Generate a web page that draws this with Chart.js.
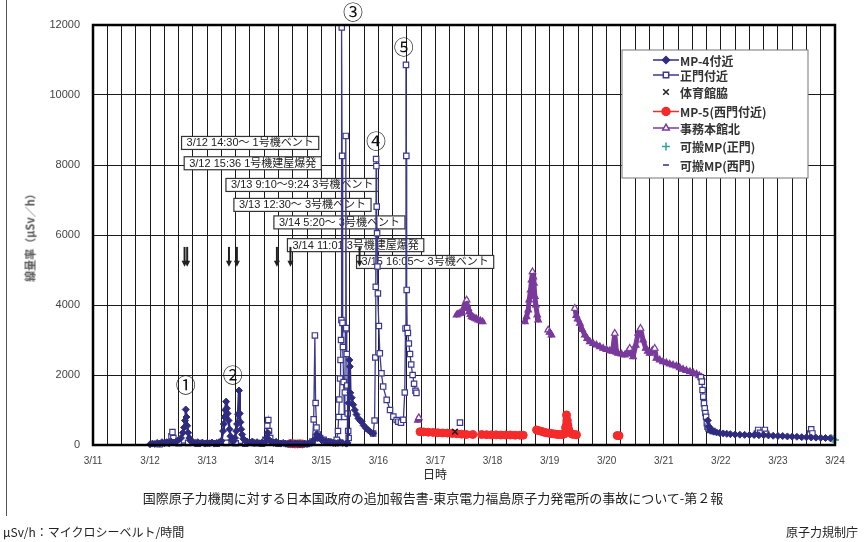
<!DOCTYPE html>
<html>
<head>
<meta charset="utf-8">
<script src="https://cdn.jsdelivr.net/npm/chart.js@4.4.1/dist/chart.umd.min.js"></script>
<style>
html, body { margin: 0; padding: 0; background: #fff; }
#wrap { position: relative; width: 866px; height: 542px; overflow: hidden; font-family: "Noto Sans CJK JP", "Liberation Sans", sans-serif; color: #222; }
#chart { position: absolute; left: 0; top: 0; }
.frame { position: absolute; left: 6px; top: 0; width: 1px; height: 516px; background: #555; }
.txt { position: absolute; white-space: nowrap; line-height: 1; }
.ytitle { left: 30px; top: 235px; transform: translate(-50%, -50%) rotate(-90deg); font-size: 11px; font-weight: bold; color: #555; }
.xtitle { left: 435px; top: 474px; transform: translate(-50%, -50%); font-size: 12px; }
.report { left: 433px; top: 497px; transform: translate(-50%, -50%); font-size: 13px; }
.unit { left: 3px; top: 532px; transform: translateY(-50%); font-size: 12px; }
.agency { right: 8px; top: 532px; transform: translateY(-50%); font-size: 12px; }
</style>
</head>
<body>
<div id="wrap">
  <canvas id="chart" width="866" height="542"></canvas>
  <div class="frame"></div>
  <div class="txt ytitle">線量率（μSv／h）</div>
  <div class="txt xtitle">日時</div>
  <div class="txt report">国際原子力機関に対する日本国政府の追加報告書-東京電力福島原子力発電所の事故について-第２報</div>
  <div class="txt unit">μSv/h：マイクロシーベルト/時間</div>
  <div class="txt agency">原子力規制庁</div>
</div>
<script>
// 横軸は 3/11 0:00 からの経過時間 (h)
const dayLabels = ['3/11', '3/12', '3/13', '3/14', '3/15', '3/16', '3/17', '3/18', '3/19', '3/20', '3/21', '3/22', '3/23', '3/24'];
const yTicks = [0, 2000, 4000, 6000, 8000, 10000, 12000];

// [時間, 線量率]  (null = 欠測)
const mp4Points = [
    [24, 20], [25, 40], [26, 30], [27, 60], [28, 40], [29, 80], [30, 50], [31, 80], [32, 50], [33, 90], [34, 70],
    [35, 100], [36, 150], [37, 200], [37.8, 350], [38.3, 500], [38.7, 700], [39, 1015], [39.3, 800], [39.6, 550],
    [40, 350], [40.5, 200], [41, 120], [42, 90], [43, 60], [44, 80], [45, 50], [46, 70], [47, 40], [48, 60],
    [49, 50], [50, 70], [51, 40], [52, 60], [53, 80], [54, 120], [54.7, 400], [55, 600], [55.3, 800], [55.6, 1000],
    [56, 1240], [56.3, 1050], [56.6, 900], [57, 700], [57.4, 450], [57.8, 250], [58.3, 150], [59, 100],
    [59.7, 200], [60.2, 400], [60.6, 600], [61, 880], [61.4, 1557], [61.7, 900], [62, 650], [62.3, 450],
    [62.7, 300], [63.2, 180], [64, 120], [65, 90], [66, 70], [67, 100], [68, 60], [69, 80], [70, 50], [71, 70],
    [72, 60], [73, 200], [73.5, 350], [74, 150], [75, 80], [76, 60], [77, 90], [78, 50], [79, 40], [80, 60],
    [81, 40], [82, 30], [83, 50], [84, 30], [85, 40], [86, 30], [87, 20], [88, 30], [89, 40], [90, 30], [91, 50],
    [92, 60], [93, 150], [94, 300], [94.5, 200], [95, 250], [96, 150], [97, 120], [98, 100], [99, 90], [100, 70],
    [101, 60], [102, 50], [103, 60], [104, 80], [105, 60], [106.5, 40], [107, 60], [107.5, 1200], [107.8, 2430],
    [108, 2240], [108.2, 1490], [108.8, 1350], [109.4, 1150], [110.1, 1000], [110.8, 870], [111.6, 760],
    [112.4, 690], [113, 666], [113.8, 560], [114.8, 480], [115.7, 428], [116.7, 370], [117.8, 334], [118, null],
    [258.5, 700], [259, 520], [259.5, 450], [260, 410], [261, 380], [262.2, 360], [263.5, 345], [265, 330],
    [266.5, 320], [268, 310], [270, 300], [272, 295], [274, 290], [276, 285], [278, 285], [280, 280], [282, 280],
    [284, 275], [286, 265], [288, 260], [290, 255], [292, 245], [294, 240], [296, 235], [298, 225], [300, 220],
    [302, 215], [304, 210], [306, 205], [308, 200], [310, 195]
];
const gatePoints = [
    [28, 20], [31, 60], [33, 250], [33.4, 370], [33.8, 200], [34.5, 80], [36, 50], [40, 60], [44, 40], [48, 50],
    [52, 40], [56, 60], [60, 50], [64, 40], [68, 50], [71, 40], [72.5, 150], [73.3, 550], [73.7, 714], [74, 400],
    [74.5, 200], [75.5, 80], [78, 40], [82, 30], [86, 40], [90, 30], [92.3, 100], [92.8, 733], [93.3, 3130],
    [93.6, 1200], [94, 500], [94.6, 300], [95.5, 200], [97, 150], [99, 100], [101, 70], [102.5, 150], [103, 400],
    [103.3, 800], [103.6, 1300], [103.9, 1900], [104.1, 2430], [104.3, 3000], [104.45, 3570], [104.6, 11930],
    [104.75, 8260], [104.9, 3490], [105.1, 2800], [105.4, 1800], [105.7, 800], [105.9, 1500], [106.1, 3310],
    [106.3, 8830], [106.5, 3340], [106.7, 2600], [106.9, 1700], [107.1, 900], [107.3, 400], [107.5, 200], [108, null],
    [117.8, 330], [118.4, 700], [118.7, 2500], [118.9, 4520], [119.05, 8170], [119.15, 7970], [119.3, 6810],
    [119.45, 6050], [119.6, 5100], [119.8, 4330], [120.2, 3400], [120.6, 2620], [121.3, 2050], [122, 1670],
    [123.5, 1290], [124.9, 1000], [126.3, 810], [127.7, 714], [128.4, 666], [129.5, 640], [130.5, 720],
    [131.1, 1500], [131.4, 3330], [131.6, 10860], [131.75, 8260], [131.9, 4430], [132.1, 3340], [132.4, 3200],
    [132.8, 2900], [133.3, 2600], [133.8, 2300], [134.4, 2000], [135, 1750], [135.6, 1550], [136, 1490], [137, null],
    [154.3, 640], [155, null],
    [255.6, 1934], [256, 1810], [256.3, 1571], [256.6, 1380], [256.9, 1190], [257.2, 1048], [257.5, 914],
    [257.8, 808], [258.1, 620], [258.4, 523], [258.8, 476], [259.5, 430], [260.5, 400], [261, null],
    [279.2, 330], [279.7, 430], [280.5, 350], [282.5, 430], [283, 320], [284, null],
    [301.5, 330], [302, 448], [302.5, 330]
];
const gymPoints = [[152.2, 380]];
const mp5Points = [
    [83, 40], [84, 35], [85, 30], [86, 30], [87, 35], [88, 30], [89, null],
    [137.5, 380], [139, 375], [141, 365], [143, 360], [145, 350], [147, 345], [149, 340], [151, 330], [153, 320],
    [155, 310], [157, 300], [159.7, 300], [161, null],
    [163.4, 300], [165.5, 295], [167.5, 290], [169.5, 290], [171.5, 285], [173.5, 285], [175.5, 285], [177.5, 280],
    [179.5, 280], [180.9, 280], [183, null],
    [186.5, 430], [187.5, 410], [188.5, 390], [189.5, 370], [190.5, 350], [191.5, 340], [192.5, 330], [193.5, 320],
    [194.5, 310], [195.5, 300], [196.5, 300], [197.5, 300], [198.3, 320], [198.7, 500], [199.1, 860], [199.4, 700],
    [199.7, 560], [200, 450], [200.5, 360], [201.5, 310], [202.5, 300], [203.3, 290], [205, null],
    [220.4, 270], [221.2, 265]
];
const officePoints = [
    [136.6, 710], [137, 780], [138, null],
    [152.9, 3714], [153.5, 3740], [154.3, 3762], [155, 3780], [155.8, 3900], [156.5, 4050], [157.1, 4143],
    [157.3, 4000], [157.8, 3900], [158.2, 3810], [158.7, 3730], [159.2, 3667], [159.9, 3640], [160.6, 3620],
    [161.3, 3600], [162, 3571], [162.9, 3550], [163.8, 3524], [165, null],
    [181.6, 3524], [182.3, 3667], [183, 3857], [183.4, 4143], [184, 4430], [184.4, 4714], [184.8, 4950],
    [185.1, 4800], [185.4, 4620], [185.8, 4240], [186.2, 4000], [186.8, 3714], [187.2, 3570], [189, null],
    [191.4, 3286], [192, 3220], [192.8, 3143], [194, null],
    [202.6, 3905], [203.2, 3700], [203.8, 3600], [204.7, 3476], [205.7, 3300], [206.8, 3143], [207.8, 3040],
    [208.9, 2952], [210.3, 2900], [211.7, 2857], [213.1, 2810], [214.5, 2762], [215.9, 2730], [217.3, 2695],
    [218.5, 2680], [219.4, 3190], [220.1, 2650], [220.8, 2620], [222.2, 2600], [223.6, 2571], [224.7, 2650],
    [225.7, 2762], [226.4, 2600], [227.1, 2524], [228.2, 2850], [229.2, 3190], [230.2, 3333], [231.3, 3000],
    [232.4, 2762], [233.3, 2680], [234.1, 2620], [235.2, 2700], [236.2, 2762], [236.9, 2476], [238.3, 2430],
    [239.7, 2380], [241.1, 2350], [242.5, 2314], [243.9, 2285], [245.3, 2257], [246.7, 2210], [248.1, 2162],
    [249.5, 2130], [251, 2095], [252.4, 2060], [253.8, 2029], [254.9, 1980], [255.9, 1934]
];
const mobileGatePoints = [[310.5, 190], [311.2, 170], [312, 140]];
const mobileWestPoints = [[309, 200], [311, 180]];

// 事象 (ベント・爆発)
const eventHours = [38.5, 39.6, 57.17, 60.5, 77.33, 83.02, 112.08];
const eventLevels = [8630, 8050, 7430, 6860, 6360, 5710, 5230];
const eventTexts = [
    '3/12 14:30～ 1号機ベント',
    '3/12 15:36 1号機建屋爆発',
    '3/13 9:10～9:24 3号機ベント',
    '3/13 12:30～ 3号機ベント',
    '3/14 5:20～ 3号機ベント',
    '3/14 11:01 3号機建屋爆発',
    '3/15 16:05～ 3号機ベント'
];
const arrowTop = 5660;
const arrowTip = 5090;

// ピーク番号
const peakLabels = ['①', '②', '③', '④', '⑤'];
const peakHours = [39, 58.8, 109.3, 119, 130.7];
const peakLevels = [1690, 2000, 12370, 8660, 11370];

const navy = '#2F2C80';
const purple = '#7A3A9C';
const red = '#F52A2A';
const teal = '#2FA39B';

function toXY(points) {
    return points.map(p => ({ x: p[0], y: p[1] }));
}

// 山になっている点だけ白抜きの三角にする
function officeFill(c) {
    const d = c.dataset.data;
    const i = c.dataIndex;
    const p = d[i], a = d[i - 1], b = d[i + 1];
    if (!p || p.y == null) return purple;
    const prev = a && a.y != null ? a.y : 0;
    const next = b && b.y != null ? b.y : 0;
    return p.y > prev && p.y > next ? '#fff' : purple;
}

const overlay = {
    id: 'overlay',
    beforeDatasetsDraw(chart) {
        const { ctx, scales: { x, y } } = chart;
        ctx.save();
        ctx.font = '11px "Liberation Sans", "Noto Sans CJK JP"';
        ctx.textBaseline = 'middle';
        eventTexts.forEach((t, i) => {
            const left = x.getPixelForValue(eventHours[i]) - 3;
            const cy = y.getPixelForValue(eventLevels[i]);
            const w = ctx.measureText(t).width + 10;
            ctx.fillStyle = '#fff';
            ctx.fillRect(left, cy - 6.5, w, 13);
            ctx.strokeStyle = '#333';
            ctx.lineWidth = 1.2;
            ctx.strokeRect(left, cy - 6.5, w, 13);
            ctx.fillStyle = '#222';
            ctx.fillText(t, left + 5, cy + 0.5);
        });
        // 矢印
        ctx.strokeStyle = '#222';
        ctx.fillStyle = '#222';
        eventHours.forEach(h => {
            const px = x.getPixelForValue(h);
            const top = y.getPixelForValue(arrowTop);
            const tip = y.getPixelForValue(arrowTip);
            ctx.lineWidth = 2;
            ctx.beginPath();
            ctx.moveTo(px, top);
            ctx.lineTo(px, tip - 4);
            ctx.stroke();
            ctx.beginPath();
            ctx.moveTo(px - 3, tip - 6);
            ctx.lineTo(px + 3, tip - 6);
            ctx.lineTo(px, tip);
            ctx.closePath();
            ctx.fill();
        });
        ctx.restore();
    },
    afterDraw(chart) {
        const { ctx, chartArea: a, scales: { x, y } } = chart;
        ctx.save();
        // 枠
        ctx.strokeStyle = '#000';
        ctx.lineWidth = 2.5;
        ctx.strokeRect(a.left, a.top, a.right - a.left, a.bottom - a.top);

        // ピーク番号
        ctx.fillStyle = '#111';
        ctx.textAlign = 'center';
        ctx.textBaseline = 'middle';
        ctx.font = '20px "Noto Sans CJK JP"';
        peakLabels.forEach((t, i) => {
            ctx.fillText(t, x.getPixelForValue(peakHours[i]), y.getPixelForValue(peakLevels[i]));
        });

        // 凡例
        const lx = a.right - 213, ly = a.top + 25, lw = 186, lh = 128;
        ctx.fillStyle = '#fff';
        ctx.fillRect(lx, ly, lw, lh);
        ctx.strokeStyle = '#777';
        ctx.lineWidth = 1;
        ctx.strokeRect(lx, ly, lw, lh);
        const rows = [10, 25, 42, 61.5, 78, 96.5, 115];
        ctx.textAlign = 'left';
        ctx.font = 'bold 12px "Noto Sans CJK JP"';
        chart.data.datasets.forEach((ds, i) => {
            const cy = ly + rows[i];
            const cx = lx + 44;
            if (ds.showLine !== false) {
                ctx.strokeStyle = ds.borderColor;
                ctx.lineWidth = 1.5;
                ctx.beginPath();
                ctx.moveTo(cx - 13, cy);
                ctx.lineTo(cx + 13, cy);
                ctx.stroke();
            }
            ctx.strokeStyle = ds.pointBorderColor;
            ctx.fillStyle = ds.legendFill || ds.pointBackgroundColor;
            Chart.helpers.drawPoint(ctx, {
                pointStyle: ds.pointStyle, radius: ds.pointRadius, rotation: 0, borderWidth: ds.pointBorderWidth
            }, cx, cy);
            ctx.fillStyle = '#333';
            ctx.fillText(ds.label, lx + 58, cy + 1);
        });
        ctx.restore();
    }
};

new Chart(document.getElementById('chart'), {
    type: 'line',
    data: {
        datasets: [{
            label: 'MP-4付近',
            data: toXY(mp4Points),
            clip: 8,
            borderColor: navy,
            borderWidth: 2.5,
            borderJoinStyle: 'round',
            pointStyle: 'rectRot',
            pointRadius: 3.5,
            pointBackgroundColor: navy,
            pointBorderColor: navy,
            pointBorderWidth: 1
        }, {
            label: '正門付近',
            data: toXY(gatePoints),
            clip: 8,
            borderColor: '#3B3890',
            borderWidth: 1.3,
            pointStyle: 'rect',
            pointRadius: 3.8,
            pointBackgroundColor: '#fff',
            pointBorderColor: '#3B3890',
            pointBorderWidth: 1.2
        }, {
            label: '体育館脇',
            data: toXY(gymPoints),
            showLine: false,
            borderColor: '#222',
            pointStyle: 'crossRot',
            pointRadius: 4,
            pointBackgroundColor: '#222',
            pointBorderColor: '#222',
            pointBorderWidth: 1.5
        }, {
            label: 'MP-5(西門付近)',
            data: toXY(mp5Points),
            clip: 8,
            borderColor: red,
            borderWidth: 7,
            borderCapStyle: 'round',
            borderJoinStyle: 'round',
            pointStyle: 'circle',
            pointRadius: 4,
            pointBackgroundColor: red,
            pointBorderColor: red,
            pointBorderWidth: 1
        }, {
            label: '事務本館北',
            data: toXY(officePoints),
            borderColor: purple,
            borderWidth: 5,
            borderCapStyle: 'round',
            borderJoinStyle: 'round',
            pointStyle: 'triangle',
            pointRadius: 3.8,
            pointBackgroundColor: officeFill,
            legendFill: '#fff',
            pointBorderColor: purple,
            pointBorderWidth: 1.2
        }, {
            label: '可搬MP(正門)',
            data: toXY(mobileGatePoints),
            showLine: false,
            clip: 8,
            borderColor: teal,
            pointStyle: 'cross',
            pointRadius: 4,
            pointBackgroundColor: teal,
            pointBorderColor: teal,
            pointBorderWidth: 1.5
        }, {
            label: '可搬MP(西門)',
            data: toXY(mobileWestPoints),
            showLine: false,
            borderColor: navy,
            pointStyle: 'line',
            pointRadius: 3,
            pointBackgroundColor: navy,
            pointBorderColor: navy,
            pointBorderWidth: 1.5
        }]
    },
    options: {
        responsive: false,
        animation: false,
        spanGaps: false,
        layout: { padding: { top: 25, right: 31, left: 0, bottom: 0 } },
        plugins: {
            legend: { display: false },
            tooltip: { enabled: false }
        },
        scales: {
            x: {
                type: 'linear',
                min: 0,
                max: (dayLabels.length - 1) * 24,
                afterFit: s => { s.height = 97; },
                afterBuildTicks: s => {
                    s.ticks = [];
                    for (let v = 0; v <= s.max; v += 6) s.ticks.push({ value: v });
                },
                grid: { color: '#1a1a1a', lineWidth: 1, drawTicks: false },
                border: { display: false },
                ticks: {
                    autoSkip: false,
                    maxRotation: 0,
                    padding: 10,
                    color: '#444',
                    font: { family: '"Liberation Sans"', size: 10 },
                    callback: v => (v % 24 === 0 ? dayLabels[v / 24] : '')
                }
            },
            y: {
                min: 0,
                max: 12000,
                afterFit: s => { s.width = 93; },
                afterBuildTicks: s => { s.ticks = yTicks.map(v => ({ value: v })); },
                grid: { color: '#1a1a1a', lineWidth: 1, drawTicks: false },
                border: { display: false },
                ticks: {
                    padding: 13,
                    color: '#444',
                    font: { family: '"Liberation Sans"', size: 11 },
                    callback: v => String(v)
                }
            }
        }
    },
    plugins: [overlay]
});
</script>
</body>
</html>
